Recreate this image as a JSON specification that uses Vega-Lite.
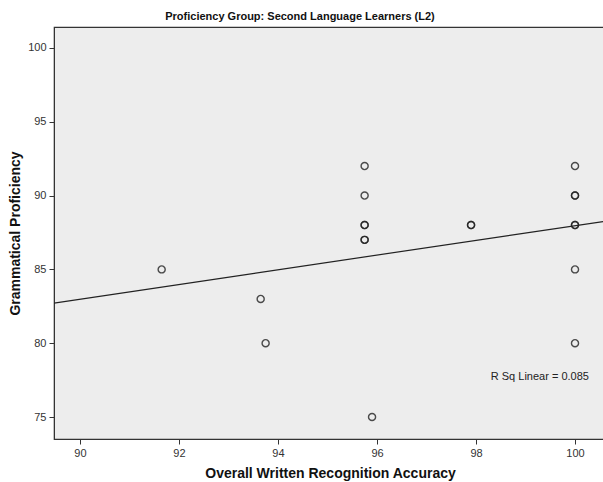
{
  "$schema": "https://vega.github.io/schema/vega-lite/v6.json",
  "autosize": "none",
  "width": 552,
  "height": 412,
  "padding": {"left": 54, "top": 27, "right": 0, "bottom": 43},
  "background": "white",
  "title": {
    "text": "Proficiency Group: Second Language Learners (L2)",
    "font": "Liberation Sans",
    "fontSize": 11,
    "fontWeight": "bold",
    "color": "#111",
    "anchor": "middle",
    "dx": -30,
    "offset": 5
  },
  "config": {
    "view": {"fill": "#ededed", "stroke": "#333", "strokeWidth": 1.2},
    "axis": {
      "labelFont": "Liberation Sans",
      "labelFontSize": 11,
      "labelColor": "#333",
      "titleFont": "Liberation Sans",
      "titleFontSize": 14,
      "titleFontWeight": "bold",
      "titleColor": "#111",
      "domainColor": "#333",
      "tickColor": "#333",
      "tickSize": 5,
      "grid": false
    }
  },
  "datasets": {
    "pts": [
      {"accuracy": 91.65, "grammar": 85},
      {"accuracy": 93.65, "grammar": 83},
      {"accuracy": 93.75, "grammar": 80},
      {"accuracy": 95.75, "grammar": 92},
      {"accuracy": 95.75, "grammar": 90},
      {"accuracy": 95.75, "grammar": 88},
      {"accuracy": 95.75, "grammar": 88},
      {"accuracy": 95.75, "grammar": 87},
      {"accuracy": 95.75, "grammar": 87},
      {"accuracy": 95.9, "grammar": 75},
      {"accuracy": 97.9, "grammar": 88},
      {"accuracy": 97.9, "grammar": 88},
      {"accuracy": 100, "grammar": 92},
      {"accuracy": 100, "grammar": 90},
      {"accuracy": 100, "grammar": 90},
      {"accuracy": 100, "grammar": 88},
      {"accuracy": 100, "grammar": 88},
      {"accuracy": 100, "grammar": 85},
      {"accuracy": 100, "grammar": 80}
    ],
    "note": [
      {"accuracy": 99.29, "grammar": 77.7, "label": "R Sq Linear = 0.085"}
    ]
  },
  "layer": [
    {
      "data": {"name": "pts"},
      "transform": [
        {"regression": "grammar", "on": "accuracy", "method": "linear", "extent": [89.475, 100.626]}
      ],
      "mark": {"type": "line", "color": "#222", "strokeWidth": 1.2, "clip": true},
      "encoding": {
        "x": {"field": "accuracy", "type": "quantitative"},
        "y": {"field": "grammar", "type": "quantitative"}
      }
    },
    {
      "data": {"name": "pts"},
      "mark": {"type": "point", "shape": "circle", "filled": false, "stroke": "#222", "strokeWidth": 1.4, "size": 50, "opacity": 0.8},
      "encoding": {
        "x": {
          "field": "accuracy",
          "type": "quantitative",
          "scale": {"domain": [89.475, 100.626], "nice": false, "zero": false},
          "axis": {"values": [90, 92, 94, 96, 98, 100], "title": "Overall Written Recognition Accuracy", "titlePadding": 8, "labelPadding": 3}
        },
        "y": {
          "field": "grammar",
          "type": "quantitative",
          "scale": {"domain": [73.51, 101.42], "nice": false, "zero": false},
          "axis": {"values": [75, 80, 85, 90, 95, 100], "title": "Grammatical Proficiency", "titlePadding": 5, "labelPadding": 3}
        }
      }
    },
    {
      "data": {"name": "note"},
      "mark": {"type": "text", "font": "Liberation Sans", "fontSize": 11, "color": "#222"},
      "encoding": {
        "x": {"field": "accuracy", "type": "quantitative"},
        "y": {"field": "grammar", "type": "quantitative"},
        "text": {"field": "label"}
      }
    }
  ]
}
